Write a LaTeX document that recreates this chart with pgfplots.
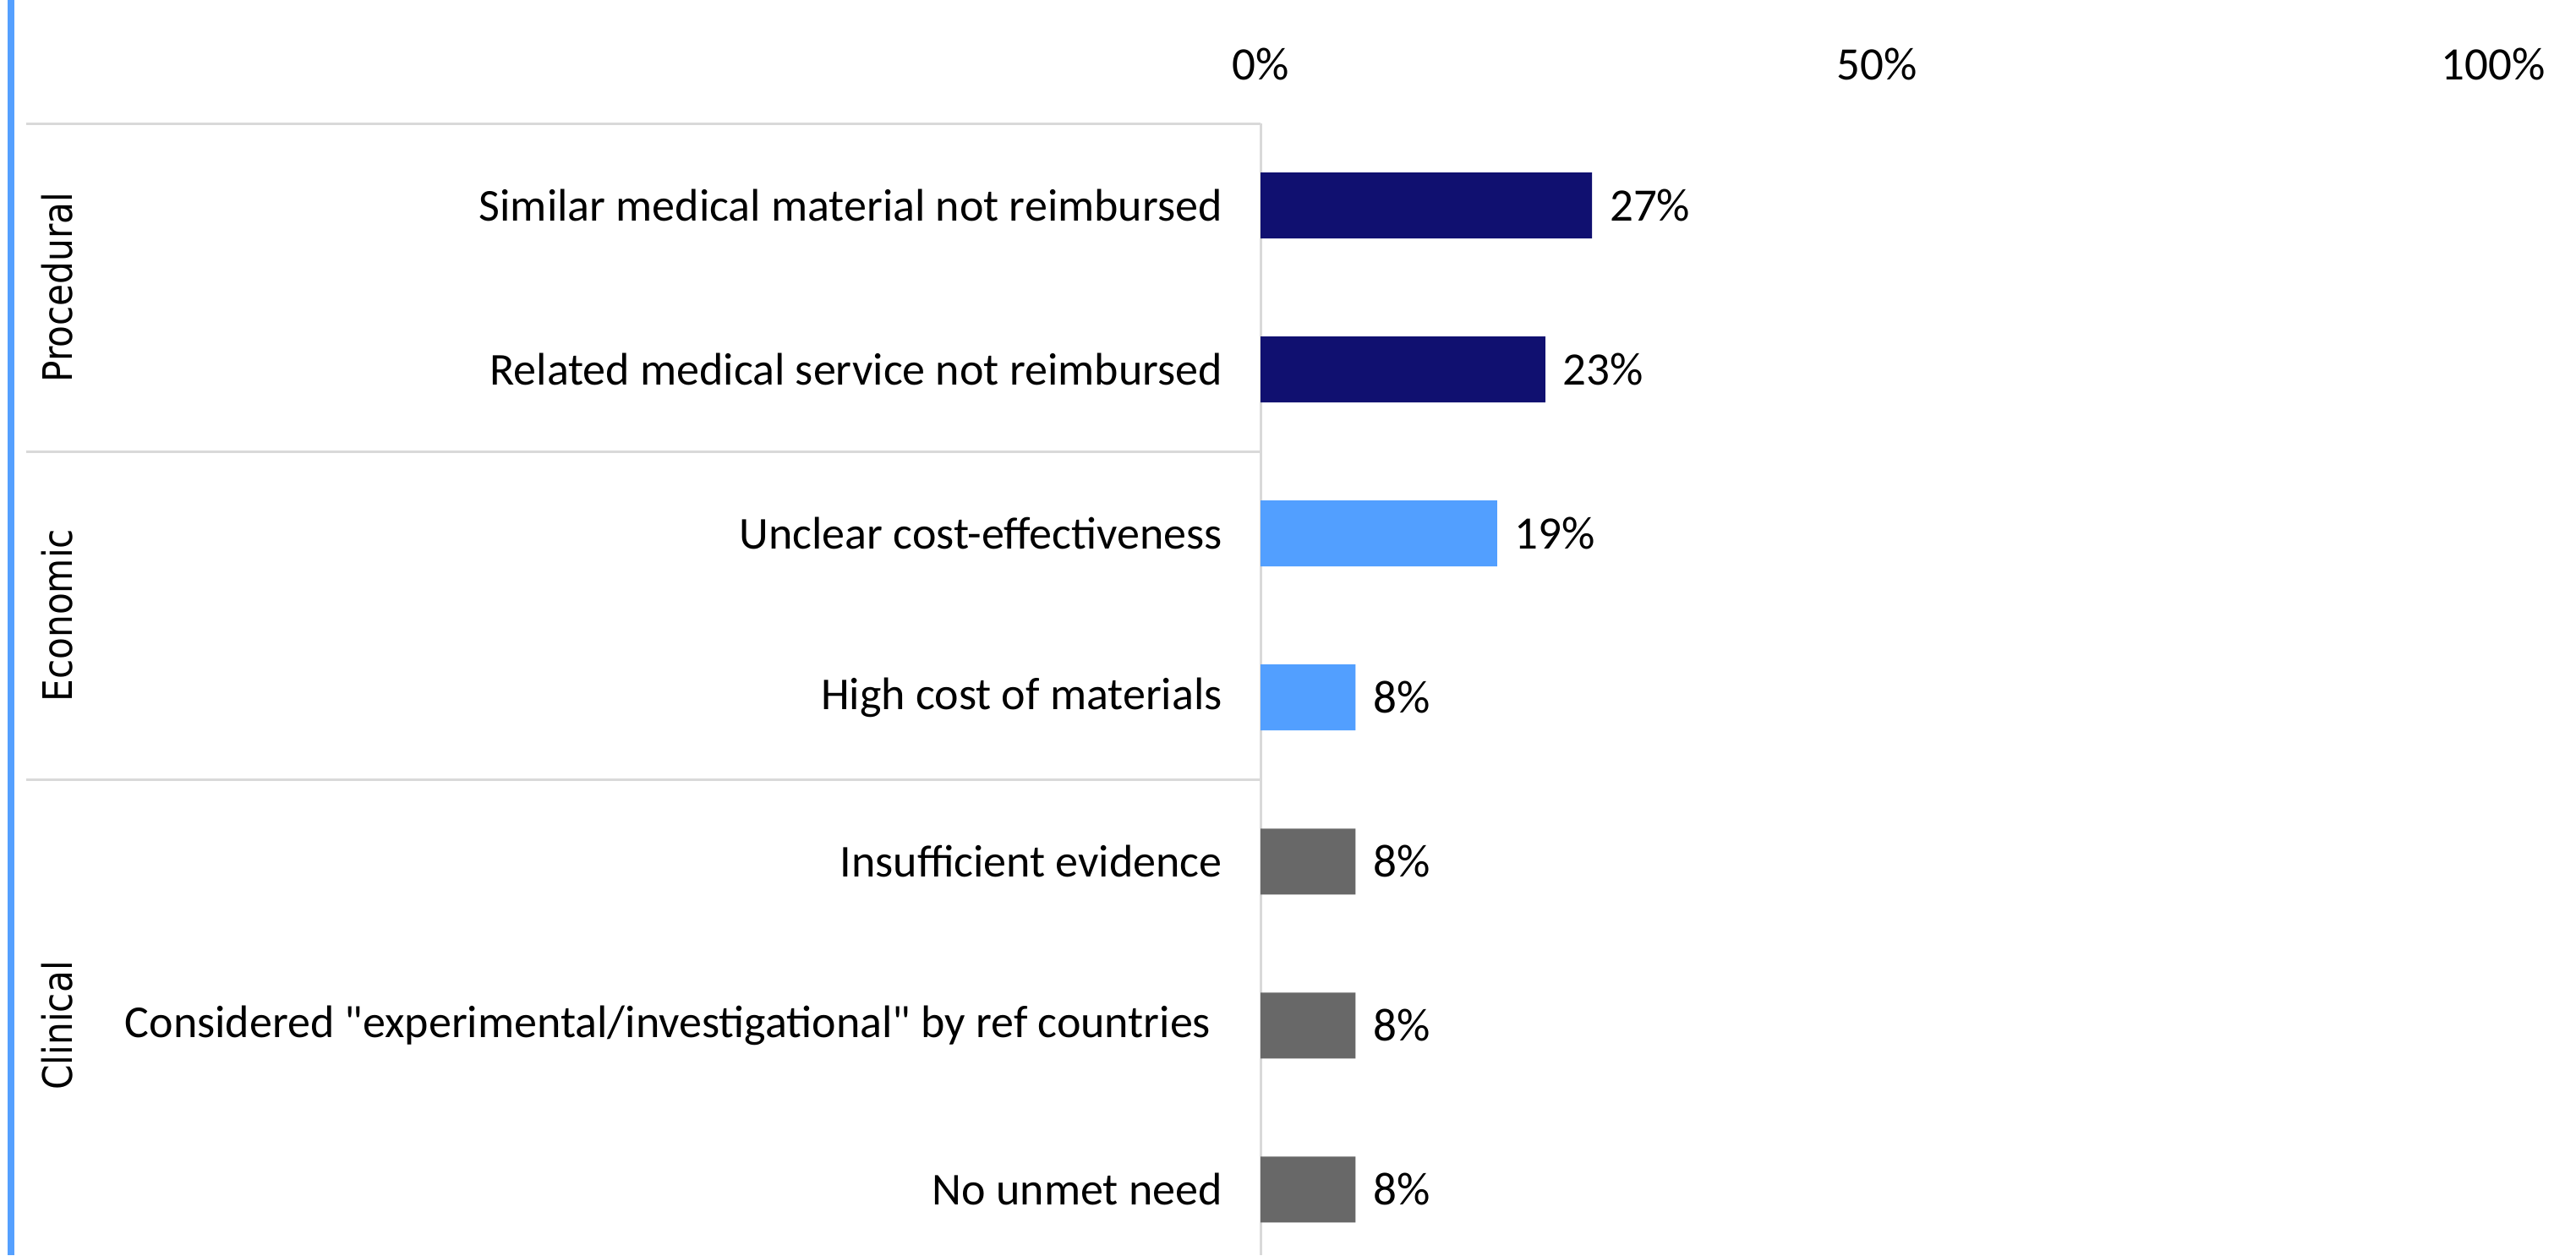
\documentclass[border=0pt]{standalone}
\usepackage{fontspec}
\setmainfont{Carlito}
\newfontfamily\plainq{Carlito}
\newfontfamily\grpfont[FakeStretch=0.88]{DejaVu Sans}
\usepackage{pgfplots}
\pgfplotsset{compat=1.18}
\definecolor{navy}{RGB}{16,16,112}
\definecolor{lblue}{RGB}{82,159,255}
\definecolor{dgray}{RGB}{104,104,104}
\definecolor{sepgray}{RGB}{217,217,217}
\definecolor{edgeblue}{RGB}{85,160,255}
\newcommand{\q}{{\plainq"}}
\begin{document}
\begin{tikzpicture}
\useasboundingbox (0,0) rectangle (609.4pt,-297pt);
\fill[edgeblue] (1.8pt,0) rectangle (3.4pt,-297pt);
\begin{axis}[
  at={(298.2pt,-29.2pt)}, anchor=north west,
  scale only axis, width=291.6pt, height=267.8pt,
  xmin=0, xmax=100, ymin=-0.5, ymax=6.4, y dir=reverse,
  xbar, bar width=15.6pt, bar shift=0pt,
  axis line style={draw=none},
  tick style={draw=none},
  xtick={0,50,100}, xticklabels={0\%,50\%,100\%},
  xticklabel pos=upper,
  xticklabel style={anchor=center, yshift=14pt, inner sep=0pt},
  ytick={0,1,2,3,4,5,6},
  yticklabels={Similar medical material not reimbursed,Related medical service not reimbursed,Unclear cost-effectiveness,High cost of materials,Insufficient evidence,Considered \q experimental/investigational\q{} by ref countries\kern0.25em,No unmet need},
  yticklabel style={anchor=east, inner sep=0pt, xshift=-4.6pt, font=\fontsize{10.8}{13}\selectfont},
  font=\fontsize{11}{13}\selectfont,
  clip=false,
  point meta=x,
  nodes near coords={\pgfmathprintnumber[fixed,precision=0,assume math mode=true]{\pgfplotspointmeta}\%},
  every node near coord/.append style={inner sep=0pt, xshift=4pt, text=black, font=\fontsize{11}{13}\selectfont},
]
\draw[sepgray, line width=0.6pt] (axis cs:0,-0.5) -- (axis cs:0,6.4);
\draw[sepgray, line width=0.6pt] ([xshift=-292pt]axis cs:0,-0.5) -- (axis cs:0,-0.5);
\draw[sepgray, line width=0.6pt] ([xshift=-292pt]axis cs:0,1.5) -- (axis cs:0,1.5);
\draw[sepgray, line width=0.6pt] ([xshift=-292pt]axis cs:0,3.5) -- (axis cs:0,3.5);
\addplot[fill=navy, draw=none] coordinates {(26.9,0) (23.1,1)};
\addplot[fill=lblue, draw=none] coordinates {(19.2,2) (7.7,3)};
\addplot[fill=dgray, draw=none] coordinates {(7.7,4) (7.7,5) (7.7,6)};
\node[rotate=90, font=\grpfont\fontsize{9.6}{11}\selectfont] at ([xshift=-284.6pt]axis cs:0,0.5) {Procedural};
\node[rotate=90, font=\grpfont\fontsize{9.6}{11}\selectfont] at ([xshift=-284.6pt]axis cs:0,2.5) {Economic};
\node[rotate=90, font=\grpfont\fontsize{9.6}{11}\selectfont] at ([xshift=-284.6pt]axis cs:0,5) {Clinical};
\end{axis}
\end{tikzpicture}
\end{document}
